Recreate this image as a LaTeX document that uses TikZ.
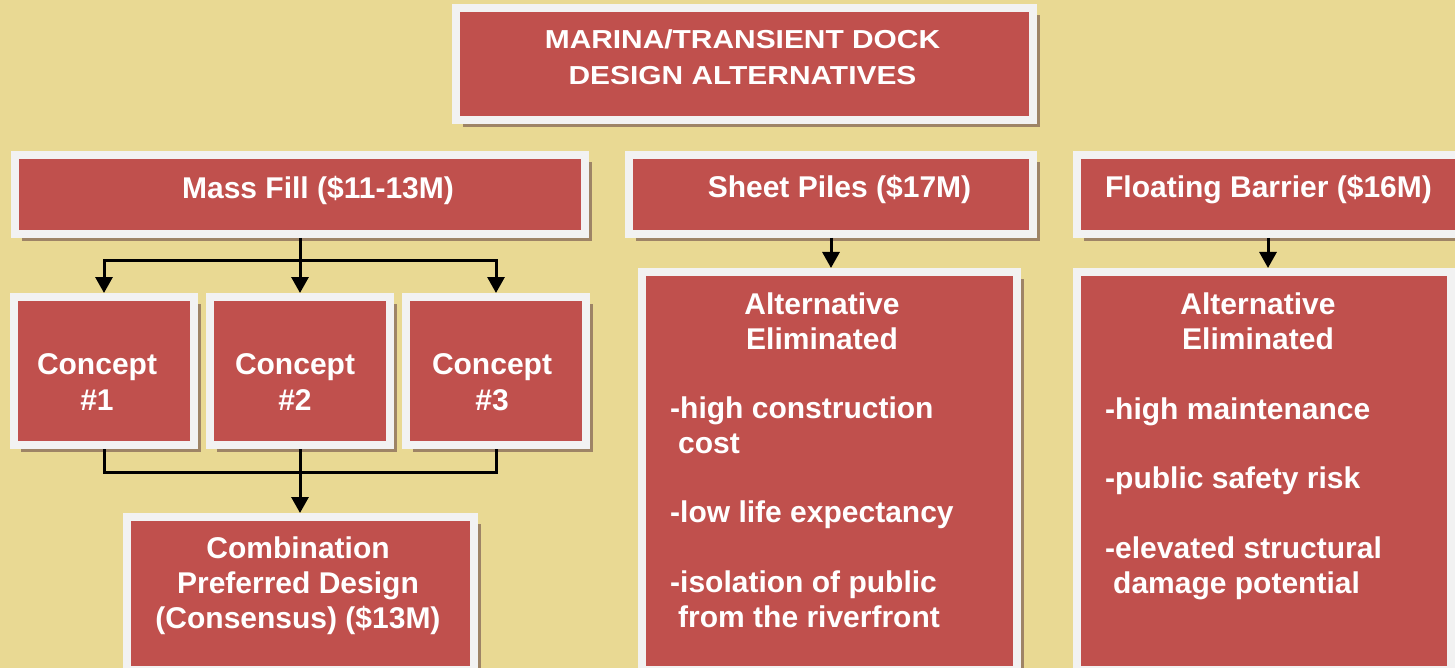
\documentclass[tikz,border=0pt]{standalone}
\usepackage{fontspec}
\setmainfont{Liberation Sans}
\newfontfamily\titlefont[FakeStretch=1.15]{Liberation Sans}
\usetikzlibrary{arrows.meta,shadows}
\definecolor{backdrop}{HTML}{E9D993}
\definecolor{boxred}{HTML}{C0504D}
\definecolor{framegray}{HTML}{F2F2F2}
\definecolor{shadowbrown}{HTML}{9E8466}

\begin{document}
\begin{tikzpicture}[x=1pt,y=-1pt,
  box/.style={draw=framegray,line width=8pt,fill=boxred,inner sep=0pt,
    drop shadow={shadow xshift=7pt,shadow yshift=-7pt,fill=shadowbrown,opacity=1}},
  txt/.style={text=white,font=\bfseries\fontsize{30}{34.7}\selectfont,inner sep=0pt},
  head/.style={txt,font=\bfseries\fontsize{30}{36}\selectfont,anchor=base},
  arr/.style={-{Triangle[width=17pt,length=16pt]},line width=3pt},
  link/.style={line width=3pt}]
\useasboundingbox (0,0) rectangle (1455,668);
\fill[backdrop] (0,0) rectangle (1455,668);
% boxes
\node[box,minimum width=577pt,minimum height=112pt] (title) at (744.5,64) {};
\node[box,minimum width=570pt,minimum height=79pt] (massfill) at (300,194.5) {};
\node[box,minimum width=404pt,minimum height=79pt] (sheet) at (831,194.5) {};
\node[box,minimum width=382pt,minimum height=79pt] (floatbar) at (1268,194.5) {};
\foreach \n/\x in {1/104,2/300,3/496}
  \node[box,minimum width=180pt,minimum height=148pt] (c\n) at (\x,371) {};
\node[box,minimum width=347pt,minimum height=153pt] (comb) at (300,593.5) {};
\node[box,minimum width=375pt,minimum height=398pt] (sheetalt) at (829.5,471) {};
\node[box,minimum width=374pt,minimum height=398pt] (floatalt) at (1264,471) {};
% texts (base = last line)
\node[head,font=\titlefont\bfseries\fontsize{26}{36}\selectfont,align=center] (titletxt) at (742.5,85) {MARINA/TRANSIENT DOCK\\DESIGN ALTERNATIVES};
\node[head] (massfilltxt) at (318,199) {Mass Fill (\$11-13M)};
\node[head] (sheettxt) at (839.5,198) {Sheet Piles (\$17M)};
\node[head] (floatbartxt) at (1268.5,198) {Floating Barrier (\$16M)};
\foreach \n/\x in {1/97,2/295,3/492}
  \node[txt,anchor=base,align=center] (c\n txt) at (\x,410) {Concept\\[1.3pt]\#\n};
\node[txt,anchor=base,align=center] (combtxt) at (298,628) {Combination\\Preferred Design\\(Consensus) (\$13M)};
\node[txt,anchor=base,align=center] (sheethead) at (822,349) {Alternative\\Eliminated};
\node[txt,anchor=base west,align=left] (sheetlist) at (670,627) {-high construction\\\hspace*{8pt}cost\\[34.7pt]-low life expectancy\\[34.7pt]-isolation of public\\\hspace*{8pt}from the riverfront};
\node[txt,anchor=base,align=center] (floathead) at (1258,349) {Alternative\\Eliminated};
\node[txt,anchor=base west,align=left] (floatlist) at (1105,593) {-high maintenance\\[34.7pt]-public safety risk\\[34.7pt]-elevated structural\\\hspace*{8pt}damage potential};
% connectors
\coordinate (split) at (300,260);
\coordinate (merge) at (300,472);
\draw[link] (massfill.south) -- (split);
\foreach \n in {1,2,3} \draw[arr] (split) -| (c\n.north);
\draw[link] (c1.south) |- (merge) -| (c3.south);
\draw[arr] (c2.south) -- (comb.north);
\draw[arr] (sheet.south) -- (sheet.south |- sheetalt.north);
\draw[arr] (floatbar.south) -- (floatbar.south |- floatalt.north);
\end{tikzpicture}
\end{document}
